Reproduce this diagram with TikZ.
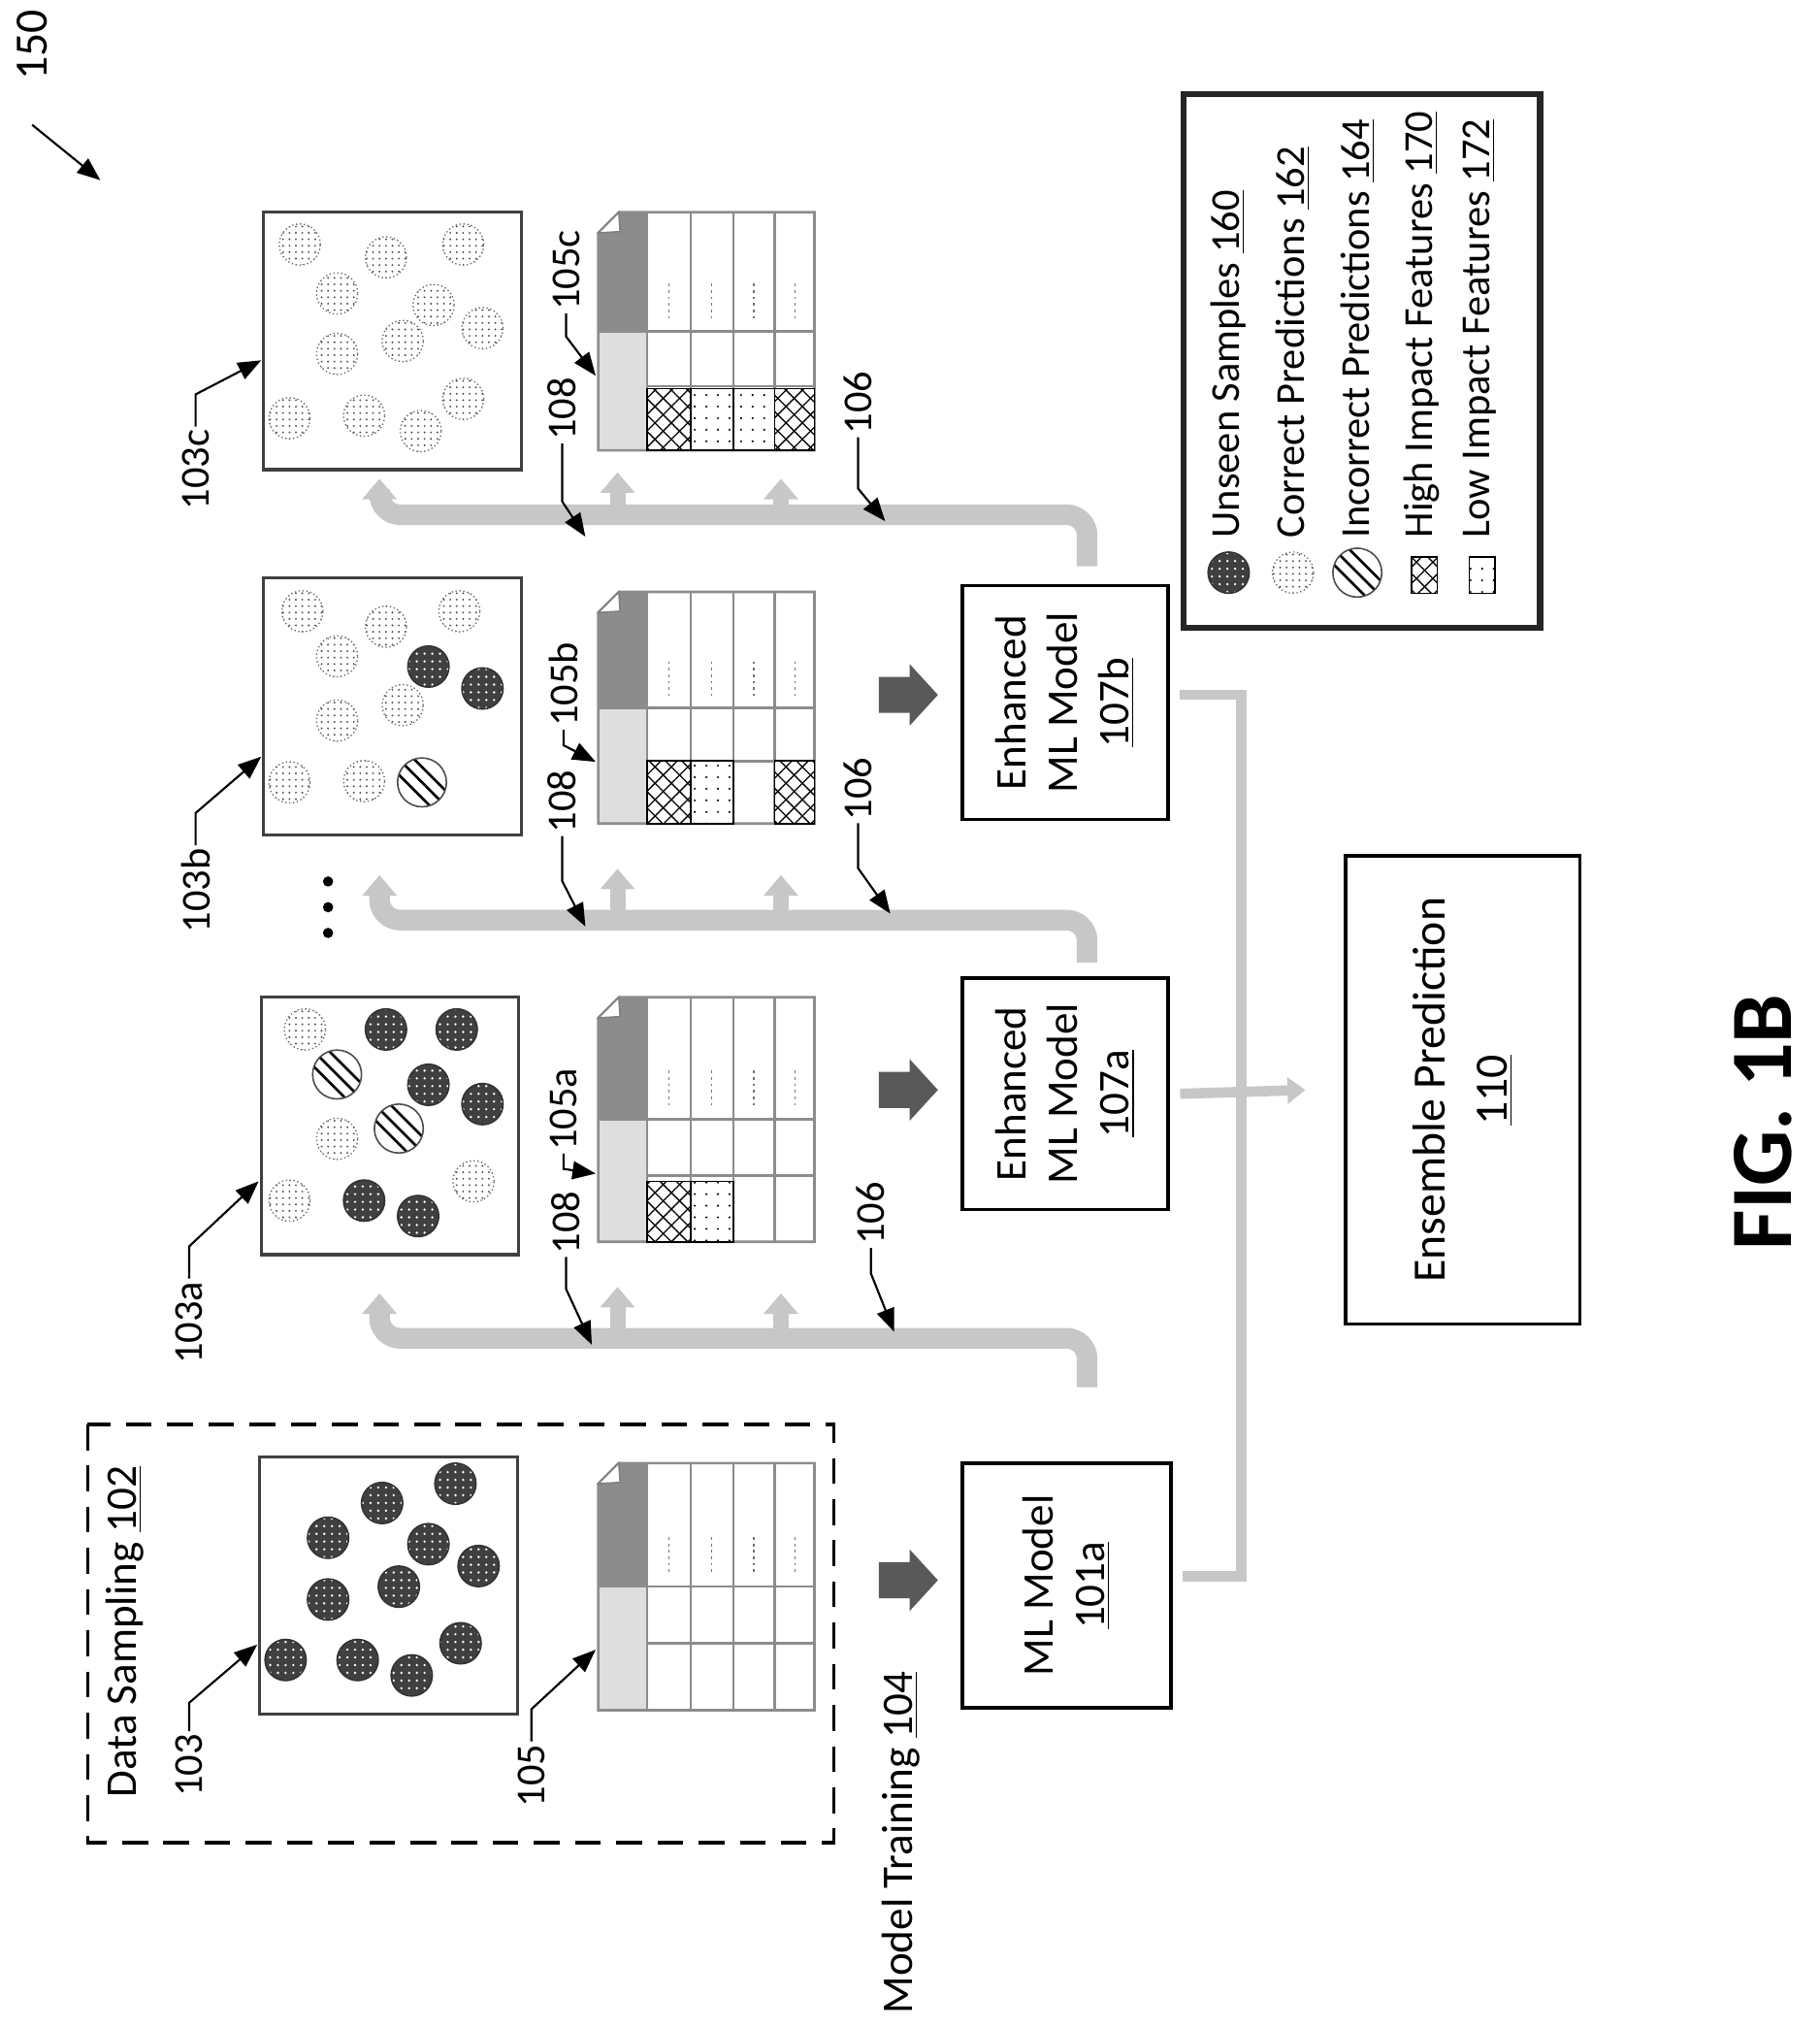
\documentclass[tikz,border=0pt]{standalone}
\usepackage{fontspec}
\setmainfont{Carlito}
\usetikzlibrary{patterns,patterns.meta,arrows.meta,calc}
\newcommand\fnt[1]{\fontsize{#1}{#1}\selectfont}
\newcommand\dkc[2]{\fill[black!75] (#1,#2) circle (8pt); \fill[pattern=dots,pattern color=white] (#1,#2) circle (8pt); \draw[black!80,line width=0.6pt] (#1,#2) circle (8pt);}
\newcommand\ltc[2]{\fill[white] (#1,#2) circle (8pt); \fill[pattern={Dots[distance=2.5pt,radius=0.4pt]},pattern color=black!70] (#1,#2) circle (8pt); \draw[black!60,line width=0.5pt,densely dotted] (#1,#2) circle (8pt);}
\newcommand\htc[2]{\begin{scope}\clip (#1,#2) circle (9.5pt); \fill[white] (#1,#2) circle (9.5pt);
 \foreach \d in {-12,0,12}{\draw[line width=1pt] ($(#1,#2)+(\d-20,-20)$) -- ($(#1,#2)+(\d+20,20)$);}\end{scope}
 \draw[black!70,line width=0.6pt] (#1,#2) circle (9.5pt);}
\newcommand\hcell[4]{\fill[white] (#1,#3) rectangle (#2,#4); \fill[pattern={Lines[angle=45,distance=4.5pt,line width=0.5pt]}] (#1,#3) rectangle (#2,#4); \fill[pattern={Lines[angle=-45,distance=4.5pt,line width=0.5pt]}] (#1,#3) rectangle (#2,#4); \draw[line width=0.6pt] (#1,#3) rectangle (#2,#4);}
\newcommand\lcell[4]{\fill[white] (#1,#3) rectangle (#2,#4); \fill[pattern={Dots[distance=4.5pt,radius=0.45pt]},pattern color=black] (#1,#3) rectangle (#2,#4); \draw[line width=0.6pt] (#1,#3) rectangle (#2,#4);}
\newcommand\mytable[3]{%
 \pgfmathsetmacro\ya{#1}\pgfmathsetmacro\yb{#2}%
 \pgfmathsetmacro\yh{#1+0.5*(#2-#1)}\pgfmathsetmacro\yr{#1+0.73*(#2-#1)}%
 \fill[black!45] (465,\ya+16) -- (481,\ya) -- (503,\ya) -- (503,\yh) -- (465,\yh) -- cycle;
 \fill[black!13] (465,\yh) rectangle (503,\yb);
 \draw[tbl] (465,\ya+16) -- (481,\ya) -- (633,\ya) -- (633,\yb) -- (465,\yb) -- cycle;
 \fill[white,draw=black!50,line width=0.6pt] (465,\ya+16) -- (481,\ya) -- (482,\ya+15) -- cycle;
 \foreach \x in {503,537,570,602}{\draw[tbl] (\x,\ya) -- (\x,\yb);}
 \draw[tbl] (465,\yh) -- (633,\yh); \draw[tbl] (503,\yr) -- (633,\yr);
 \foreach \x in {520,553,586,618}{\draw[black!55,line width=0.5pt,dash pattern=on 1pt off 1.5pt] (\x,\ya+0.3*\yb-0.3*\ya) -- (\x,\ya+0.45*\yb-0.45*\ya);}
 \coordinate (#3) at (503,\yr);}
\begin{document}
\begin{tikzpicture}[x=0.5pt,y=-0.5pt,
 box/.style={draw=black!75,line width=1.2pt},
 tbl/.style={draw=black!45,line width=1pt},
 model/.style={draw,line width=1.3pt,rotate=90,align=center,font=\fnt{17},inner sep=0pt},
 lbl/.style={rotate=90,font=\fnt{16},inner sep=1pt},
 lead/.style={line width=0.8pt,-{Triangle[length=9pt,width=7pt]}},
 band/.style={draw=black!22,line width=8pt,rounded corners=8pt},
 up/.style={draw=black!22,line width=6pt,-{Triangle[length=8pt,width=13pt]}},
 ens/.style={draw=black!22,line width=4pt}]
\useasboundingbox (0,0) rectangle (1414,1576);
% 150
\node[lbl,font=\fnt{18}] (l150) at (25,35) {150};
\coordinate (a150) at (78,140);
\draw[lead] (25,97) -- (a150);
% data sampling
\draw[line width=1.2pt,dash pattern=on 10pt off 6pt] (68,1107) rectangle (648,1432);
\node[rotate=90,font=\fnt{17}] (ds) at (97,1268) {Data Sampling \underline{102}};
\node[rotate=90,font=\fnt{17},anchor=west] (mt) at (700,1572) {Model Training \underline{104}};
% sample boxes
\node[box,minimum width=100pt,minimum height=100pt,inner sep=0pt] (b103) at (302,1232) {};
\node[box,minimum width=100pt,minimum height=100pt,inner sep=0pt] (b103a) at (303,875) {};
\node[box,minimum width=100pt,minimum height=100pt,inner sep=0pt] (b103b) at (305,549) {};
\node[box,minimum width=100pt,minimum height=100pt,inner sep=0pt] (b103c) at (305,265) {};
\foreach \p/\q in {95/35,152/20,53/62,131/67,170/84,53/110,108/100,20/157,76/157,118/169,156/144}{\dkc{202+\p}{1133+\q}}
\ltc{237}{800}\dkc{300}{800}\dkc{355}{800}\htc{262}{835}\dkc{333}{843}\dkc{375}{858}\ltc{262}{885}\htc{310}{877}\ltc{225}{933}\dkc{283}{933}\dkc{325}{945}\ltc{368}{918}
\ltc{235}{475}\ltc{300}{487}\ltc{357}{475}\ltc{262}{510}\dkc{333}{518}\dkc{375}{535}\ltc{262}{560}\ltc{313}{548}\ltc{225}{608}\ltc{283}{607}\htc{328}{608}
\foreach \p/\q in {233/190,300/200,360/190,262/228,337/237,375/255,262/275,313/265,225/325,283/323,327/335,360/310}{\ltc{\p}{\q}}
% tables
\mytable{1137}{1329}{t105}
\mytable{775}{965}{t105a}
\mytable{460}{640}{t105b}
\mytable{165}{350}{t105c}
\hcell{503}{537}{918}{965}\lcell{537}{570}{918}{965}
\hcell{503}{537}{591}{640}\lcell{537}{570}{591}{640}\hcell{602}{633}{591}{640}
\hcell{503}{537}{302}{350}\lcell{537}{570}{302}{350}\lcell{570}{602}{302}{350}\hcell{602}{633}{302}{350}
% labels 103/105
\node[lbl] (l103) at (147,1372) {103};
\draw[lead] (l103.east) -- ++(0,-22) -- (200,1278);
\node[lbl] (l105) at (413,1380) {105};
\draw[lead] (l105.east) -- ++(0,-25) -- (463,1282);
\node[lbl] (l103a) at (147,1028) {103a};
\draw[lead] (l103a.east) -- ++(0,-25) -- (201,918);
\node[lbl] (l105a) at (438,862) {105a};
\draw[lead] (l105a.west) -- ++(0,12) -- (463,912);
\node[lbl] (l103b) at (152,692) {103b};
\draw[lead] (l103b.east) -- ++(0,-25) -- (203,588);
\node[lbl] (l105b) at (438,532) {105b};
\draw[lead] (l105b.west) -- ++(0,12) -- (463,592);
\node[lbl] (l103c) at (152,365) {103c};
\draw[lead] (l103c.east) -- ++(0,-25) -- (203,280);
\node[lbl] (l105c) at (440,210) {105c};
\draw[lead] (l105c.west) -- ++(0,18) -- (463,292);
\foreach \y in {685,705,725}{\fill (255,\y) circle (2pt);}
% feedback bands
\foreach \yb/\ys/\yt in {1040/1078/1005,715/748/680,400/440/372}{
 \draw[band] (845,\ys) |- (295,\yb) -- (295,\yb-20);
 \draw[up] (295,\yb-12) -- (295,\yt);
 \draw[up] (480,\yb) -- (480,\yt-5);
 \draw[up] (607,\yb) -- (607,\yt);}
\node[lbl] (l108a) at (440,950) {108};
\draw[lead] (l108a.west) -- ++(0,25) -- (460,1045);
\node[lbl] (l106a) at (677,943) {106};
\draw[lead] (l106a.west) -- ++(0,20) -- (695,1035);
\node[lbl] (l108b) at (437,623) {108};
\draw[lead] (l108b.west) -- ++(0,35) -- (455,720);
\node[lbl] (l106b) at (667,613) {106};
\draw[lead] (l106b.west) -- ++(0,35) -- (692,710);
\node[lbl] (l108c) at (437,318) {108};
\draw[lead] (l108c.west) -- ++(0,45) -- (455,417);
\node[lbl] (l106c) at (667,313) {106};
\draw[lead] (l106c.west) -- ++(0,40) -- (688,405);
% fat arrows
\foreach \yy in {1228,847,540}{
 \fill[black!65,shift={(705,\yy)}] (-22,-14) -- (2,-14) -- (2,-24) -- (24,0) -- (2,24) -- (2,14) -- (-22,14) -- cycle;}
% models
\node[model,minimum width=95pt,minimum height=81pt] (m101) at (829,1232) {ML Model\\[3pt]\underline{101a}};
\node[model,minimum width=90pt,minimum height=80pt] (m107a) at (828,850) {Enhanced\\[3pt]ML Model\\[3pt]\underline{107a}};
\node[model,minimum width=91pt,minimum height=80pt] (m107b) at (828,546) {Enhanced\\[3pt]ML Model\\[3pt]\underline{107b}};
% ensemble
\node[draw,line width=1.3pt,rotate=90,minimum width=182pt,minimum height=91pt,align=center,font=\fnt{18}] (ens) at (1137,847) {Ensemble Prediction\\[6pt]\underline{110}};
\coordinate (j1) at (965,540); \coordinate (j2) at (965,1225);
\draw[ens] ($(m107b.south)+(8,-6)$) -- (j1) -- (j2) -- ($(m101.south)+(8,-7)$);
\draw[ens,-{Triangle[length=7pt,width=10pt]}] ($(m107a.south)+(8,0)$) -- ($(ens.north)+(-30,0)$);
% legend
\draw[line width=2.5pt,draw=black!85] (920,73) rectangle (1197,488);
\dkc{955}{445}\ltc{1005}{445}\htc{1055}{445}
\hcell{1097}{1117}{433}{461}
\lcell{1142}{1162}{433}{461}
\foreach \x/\t in {955/Unseen Samples \underline{160},1005/Correct Predictions \underline{162},1055/Incorrect Predictions \underline{164},1105/High Impact Features \underline{170},1150/Low Impact Features \underline{172}}{
 \node[rotate=90,anchor=west,font=\fnt{16}] at (\x,425) {\t};}
\node[rotate=90,font=\fnt{34}\bfseries] (fig) at (1370,872) {FIG. 1B};
\end{tikzpicture}
\end{document}
